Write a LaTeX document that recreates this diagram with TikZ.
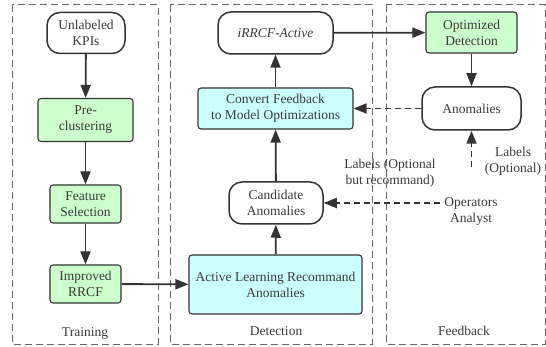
\documentclass[tikz,border=0pt]{standalone}
\usepackage{fontspec}
\setmainfont{Liberation Serif}
\usetikzlibrary{arrows.meta}
\definecolor{ink}{HTML}{333333}
\definecolor{txt}{HTML}{3A3A3A}
\definecolor{gfill}{HTML}{CCFFCC}
\definecolor{cfill}{HTML}{CCFFFF}
\begin{document}
\begin{tikzpicture}[x=1pt,y=-1pt,
  every node/.style={text=txt,font=\fontsize{13.5}{16}\selectfont,align=center,inner sep=0pt},
  pill/.style={draw=ink,line width=1.5pt,fill=white,rounded corners=13pt},
  gbox/.style={draw=ink,line width=1.1pt,fill=gfill,rounded corners=3pt},
  cbox/.style={draw=ink,line width=1.1pt,fill=cfill,rounded corners=3pt},
  frame/.style={draw=black!60,line width=1pt,dash pattern=on 7pt off 4pt},
  arr/.style={draw=ink,line width=1.8pt,-{Triangle[length=13pt,width=10pt]}},
  darr/.style={draw=ink,line width=1.8pt,dash pattern=on 6pt off 4pt,-{Triangle[length=13pt,width=10pt]}}
]
\useasboundingbox (0,0) rectangle (546,347);
\fill[white] (0,0) rectangle (546,347);
% frames
\draw[frame] (12,5) rectangle (158,344);
\draw[frame] (170,5) rectangle (372,344);
\draw[frame] (386,5) rectangle (545,344);
\node (tr) at (85,333) {Training};
\node (de) at (276,331) {Detection};
\node (fb) at (464,331) {Feedback};
% training
\node[pill,minimum width=78pt,minimum height=41pt] (kpi) at (86,33) {Unlabeled\\KPIs};
\node[gbox,minimum width=95pt,minimum height=43pt] (pre) at (85.5,120) {Pre-\\clustering};
\node[gbox,minimum width=71pt,minimum height=38pt] (fs) at (85.5,204) {Feature\\Selection};
\node[gbox,minimum width=71pt,minimum height=38pt] (ir) at (85.5,284) {Improved\\RRCF};
% detection
\node[pill,minimum width=115pt,minimum height=42pt] (ia) at (275.5,33) {\textit{iRRCF-Active}};
\node[cbox,minimum width=155pt,minimum height=41pt] (cf) at (275.5,108.5) {Convert Feedback\\to Model Optimizations};
\node[pill,minimum width=94pt,minimum height=42pt] (ca) at (276,203) {Candidate\\Anomalies};
\node[cbox,minimum width=173pt,minimum height=59pt] (al) at (275.5,284.5) {Active Learning Recommand\\Anomalies};
% feedback
\node[gbox,minimum width=91pt,minimum height=41pt] (od) at (471.5,32.5) {Optimized\\Detection};
\node[pill,minimum width=99pt,minimum height=43pt] (an) at (471.5,108.5) {Anomalies};
\node (lo) at (513,161) {Labels\\(Optional)};
\node (lr) at (390,173) {Labels (Optional\\but recommand)};
\node (op) at (471,211) {Operators\\Analyst};
\coordinate (ls) at (471.5,167);
\coordinate (os) at (440,203);
% connectors
\draw[arr] (kpi) -- (pre);
\draw[arr] (pre) -- (fs);
\draw[arr] (fs) -- (ir);
\draw[arr] (ir) -- (al);
\draw[arr] (al) -- (ca);
\draw[arr] (ca) -- (cf);
\draw[arr] (cf) -- (ia);
\draw[arr] (ia) -- (od);
\draw[arr] (od) -- (an);
\draw[darr] (an) -- (cf);
\draw[darr] (os) -- (ca);
\draw[darr] (ls) -- (an);
\end{tikzpicture}
\end{document}
